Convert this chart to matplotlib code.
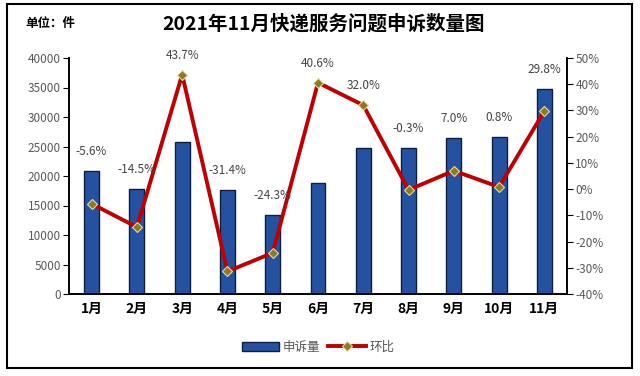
import numpy as np
import matplotlib.pyplot as plt
from matplotlib.patches import Rectangle
from matplotlib.ticker import FuncFormatter

plt.rcParams['font.family'] = ['Noto Sans CJK SC', 'DejaVu Sans']

months = ['1月', '2月', '3月', '4月', '5月', '6月', '7月', '8月', '9月', '10月', '11月']
complaints = [20900, 17800, 25700, 17600, 13400, 18800, 24700, 24700, 26400, 26600, 34700]
mom_pct = [-5.6, -14.5, 43.7, -31.4, -24.3, 40.6, 32.0, -0.3, 7.0, 0.8, 29.8]

fig = plt.figure(figsize=(6.4, 3.76), dpi=100)
fig.patches.append(Rectangle((7 / 640, 1 - 368 / 376), 625 / 640, 364 / 376,
                             transform=fig.transFigure, fill=False,
                             edgecolor='black', linewidth=1.5))

ax = fig.add_axes([69 / 640, 1 - 294 / 376, 498 / 640, 236 / 376])
ax2 = ax.twinx()
x = np.arange(len(months))

ax.bar(x, complaints, width=0.33, color='#2452A0', edgecolor='#0D1F40',
       linewidth=1.0, label='申诉量', zorder=2)
ax2.plot(x, mom_pct, color='#C00000', linewidth=2.8, marker='D', markersize=5,
         markerfacecolor='#8B7A1E', markeredgecolor='#E8D9A0', markeredgewidth=0.8,
         label='环比', zorder=3)

ax.set_xlim(-0.5, len(months) - 0.5)
ax.set_ylim(0, 40000)
ax.set_yticks(range(0, 40001, 5000))
ax2.set_ylim(-40, 50)
ax2.set_yticks(range(-40, 51, 10))
ax2.yaxis.set_major_formatter(FuncFormatter(lambda v, p: f'{int(v)}%'))

ax.set_xticks(x)
ax.set_xticklabels(months, fontsize=10, fontweight='bold', color='black')
ax.tick_params(axis='x', length=0, pad=6)
ax.tick_params(axis='y', labelsize=8.5, labelcolor='#595959', length=4, direction='out', pad=2)
ax2.tick_params(axis='y', labelsize=8.5, labelcolor='#595959', length=4, direction='out', pad=2)

for a in (ax, ax2):
    a.spines['top'].set_visible(False)
    for s in ('left', 'right', 'bottom'):
        a.spines[s].set_color('black')
        a.spines[s].set_linewidth(1.2)
ax.patch.set_visible(False)

# label sits above whichever is higher: bar top or line point
for i, (v, p) in enumerate(zip(complaints, mom_pct)):
    bar_in_pct = -40 + v / 40000 * 90
    top = max(bar_in_pct, p)
    ax2.annotate(f'{p:.1f}%', (i, top), xytext=(0, 14), textcoords='offset points',
                 ha='center', va='center', fontsize=8.5, color='#444444')

fig.text(25 / 640, 1 - 24 / 376, '单位：件', fontsize=9, fontweight='bold',
         ha='left', va='center')
fig.text(324 / 640, 1 - 24 / 376, '2021年11月快递服务问题申诉数量图', fontsize=14,
         fontweight='bold', ha='center', va='center')

h1, l1 = ax.get_legend_handles_labels()
h2, l2 = ax2.get_legend_handles_labels()
fig.legend(h1 + h2, l1 + l2, loc='center', bbox_to_anchor=(318 / 640, 1 - 347 / 376),
           ncol=2, frameon=False, fontsize=9, handlelength=3, columnspacing=0.6,
           handletextpad=0.3, labelcolor='#555555')

fig.savefig('out.png', dpi=100)
